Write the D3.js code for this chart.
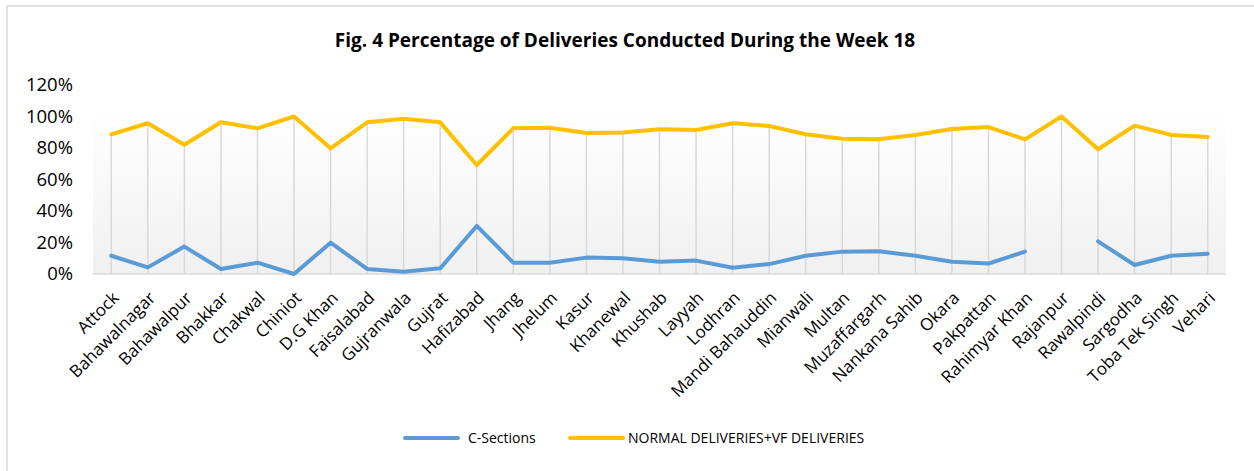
<!DOCTYPE html>
<html>
<head>
<meta charset="utf-8">
<script src="https://cdn.jsdelivr.net/npm/d3@7"></script>
<style>
    body { margin: 0; background: #fff; }
    svg text { font-family: "Open Sans", Lato, sans-serif; fill: #000; }
</style>
</head>
<body>
<div class="chart"></div>
<script>

//////////
// DATA //
//////////

var districts = ['Attock', 'Bahawalnagar', 'Bahawalpur', 'Bhakkar', 'Chakwal', 'Chiniot', 'D.G Khan',
    'Faisalabad', 'Gujranwala', 'Gujrat', 'Hafizabad', 'Jhang', 'Jhelum', 'Kasur', 'Khanewal', 'Khushab',
    'Layyah', 'Lodhran', 'Mandi Bahauddin', 'Mianwali', 'Multan', 'Muzaffargarh', 'Nankana Sahib', 'Okara',
    'Pakpattan', 'Rahimyar Khan', 'Rajanpur', 'Rawalpindi', 'Sargodha', 'Toba Tek Singh', 'Vehari'];

// C-Sections (null = no value, Rajanpur)
var cSections = [11.6, 4.2, 17.4, 3.2, 7.2, 0, 19.9, 3.2, 1.4, 3.6, 30.5, 7.2, 7.2, 10.4, 10.0, 7.8,
    8.5, 4.0, 6.3, 11.6, 14.2, 14.4, 11.6, 7.8, 6.6, 14.2, null, 20.7, 5.7, 11.6, 12.9];

// Normal deliveries + VF deliveries
var normalVf = [88.7, 95.7, 82.1, 96.3, 92.5, 100, 79.8, 96.3, 98.5, 96.3, 69.2, 92.5, 92.8, 89.5, 89.8, 91.9,
    91.4, 95.7, 94.0, 88.7, 85.9, 85.5, 88.3, 92.1, 93.3, 85.5, 100, 79.2, 94.2, 88.3, 87.0];

var yTicks = [0, 20, 40, 60, 80, 100, 120];

var seriesNames = ['C-Sections', 'NORMAL DELIVERIES+VF DELIVERIES'];
var seriesColors = ['#5b9bd5', '#ffc000'];

////////////////
// DIMENSIONS //
////////////////

var w = 1254, h = 471;
var plot = { left: 93, right: 1226, top: 110, bottom: 274 };

var svg = d3.select('.chart')
    .append('svg')
    .attr('width', w)
    .attr('height', h);

// outer chart border
svg.append('rect')
    .attr('x', 7).attr('y', 6)
    .attr('width', w + 20).attr('height', h + 20)
    .attr('fill', '#fff')
    .attr('stroke', '#d9d9d9')
    .attr('stroke-width', 1.5);

////////////
// SCALES //
////////////

var xScale = d3.scalePoint()
    .domain(districts)
    .range([plot.left, plot.right])
    .padding(0.5);

var yScale = d3.scaleLinear()
    .domain([0, 120])
    .range([plot.bottom, plot.bottom - 189]);

/////////////////////
// PLOT BACKGROUND //
/////////////////////

var grad = svg.append('defs').append('linearGradient')
    .attr('id', 'plotBg')
    .attr('x1', 0).attr('y1', 0).attr('x2', 0).attr('y2', 1);
grad.append('stop').attr('offset', '0%').attr('stop-color', '#ffffff');
grad.append('stop').attr('offset', '100%').attr('stop-color', '#f0f0f0');

svg.append('rect')
    .attr('x', plot.left).attr('y', plot.top)
    .attr('width', plot.right - plot.left)
    .attr('height', plot.bottom - plot.top)
    .attr('fill', 'url(#plotBg)');

////////////////
// DROP LINES //
////////////////

svg.selectAll('.drop')
    .data(districts)
    .enter()
    .append('line')
    .attr('class', 'drop')
    .attr('x1', function(d) { return xScale(d); })
    .attr('x2', function(d) { return xScale(d); })
    .attr('y1', function(d, i) { return yScale(Math.max(normalVf[i], cSections[i] || 0)); })
    .attr('y2', yScale(0))
    .attr('stroke', '#d9d9d9')
    .attr('stroke-width', 1.5);

//////////
// AXIS //
//////////

svg.append('line')
    .attr('x1', plot.left).attr('x2', plot.right)
    .attr('y1', yScale(0)).attr('y2', yScale(0))
    .attr('stroke', '#d9d9d9')
    .attr('stroke-width', 1.5);

var yAxis = d3.axisLeft(yScale)
    .tickValues(yTicks)
    .tickSize(0)
    .tickPadding(0)
    .tickFormat(function(d) { return d + '%'; });

var yG = svg.append('g')
    .attr('transform', 'translate(73,0)')
    .call(yAxis);
yG.select('.domain').remove();
yG.selectAll('text')
    .style('font-size', '18.5px')
    .attr('fill', '#000');

var xAxis = d3.axisBottom(xScale)
    .tickSize(0)
    .tickPadding(0);

var xG = svg.append('g')
    .attr('transform', 'translate(0,' + yScale(0) + ')')
    .call(xAxis);
xG.select('.domain').remove();
xG.selectAll('text')
    .style('font-size', '17px')
    .attr('fill', '#000')
    .attr('text-anchor', 'end')
    .attr('y', 0)
    .attr('dy', 0)
    .attr('transform', 'translate(8,25) rotate(-45)');

///////////
// LINES //
///////////

var line = d3.line()
    .defined(function(d) { return d.v !== null; })
    .x(function(d) { return xScale(d.name); })
    .y(function(d) { return yScale(d.v); });

[cSections, normalVf].forEach(function(values, k) {
    var pts = districts.map(function(name, i) { return { name: name, v: values[i] }; });
    svg.append('path')
        .datum(pts)
        .attr('fill', 'none')
        .attr('stroke', seriesColors[k])
        .attr('stroke-width', 4)
        .attr('stroke-linejoin', 'round')
        .attr('stroke-linecap', 'round')
        .attr('d', line);
});

///////////
// TITLE //
///////////

svg.append('text')
    .attr('x', 625)
    .attr('y', 47)
    .attr('text-anchor', 'middle')
    .style('font-size', '19px')
    .style('font-weight', 'bold')
    .text('Fig. 4 Percentage of Deliveries Conducted During the Week 18');

////////////
// LEGEND //
////////////

var legendX = [405, 570];
var legend = svg.selectAll('.legend')
    .data(seriesNames)
    .enter()
    .append('g')
    .attr('class', 'legend')
    .attr('transform', function(d, i) { return 'translate(' + legendX[i] + ',438)'; });

legend.append('line')
    .attr('x1', 0).attr('x2', 53)
    .attr('y1', 0).attr('y2', 0)
    .attr('stroke', function(d, i) { return seriesColors[i]; })
    .attr('stroke-width', 4)
    .attr('stroke-linecap', 'round');

legend.append('text')
    .attr('x', function(d, i) { return i === 0 ? 63 : 58; })
    .attr('y', 5)
    .style('font-size', '14px')
    .text(function(d) { return d; });

</script>
</body>
</html>
